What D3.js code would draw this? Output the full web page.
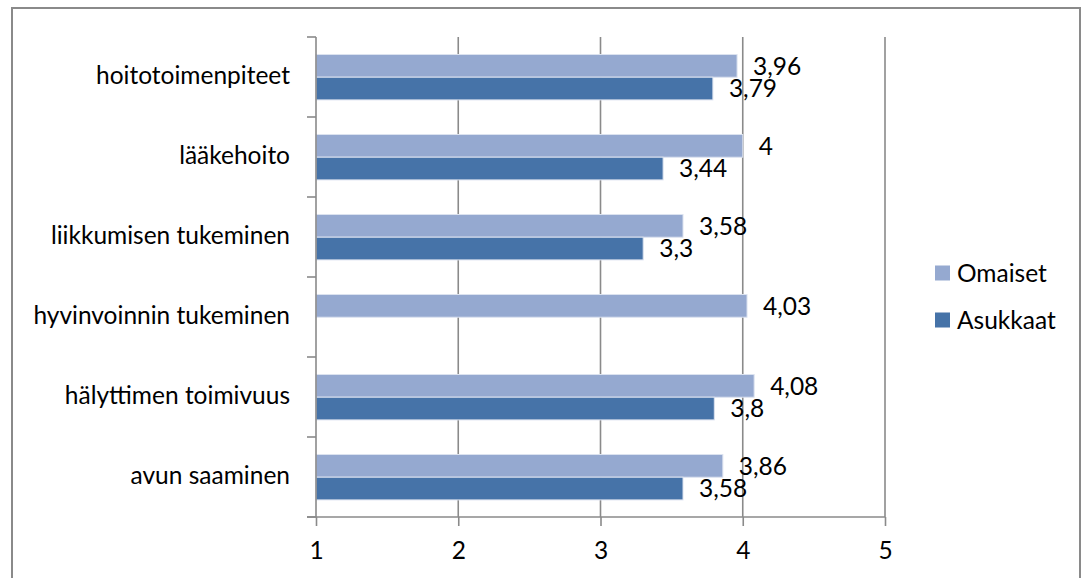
<!DOCTYPE html>
<html>
<head>
<meta charset="utf-8">
<title>Omaiset / Asukkaat</title>
<script src="https://cdn.jsdelivr.net/npm/d3@7/dist/d3.min.js"></script>
<style>
  body { margin: 0; background: #fff; }
  svg text { font-family: Lato, "Open Sans", sans-serif; fill: #000; }
</style>
</head>
<body>
<svg id="chart" width="1082" height="578"></svg>
<script>
// data (top to bottom)
var categories = ["hoitotoimenpiteet", "lääkehoito", "liikkumisen tukeminen",
                  "hyvinvoinnin tukeminen", "hälyttimen toimivuus", "avun saaminen"];
var omaiset  = [3.96, 4, 3.58, 4.03, 4.08, 3.86];
var asukkaat = [3.79, 3.44, 3.3, null, 3.8, 3.58];
var seriesNames = ["Omaiset", "Asukkaat"];
var seriesColors = ["#95a9d0", "#4673a8"];
var xTicks = [1, 2, 3, 4, 5];

var svg = d3.select("#chart");
var fmt = function(v) { return String(v).replace(".", ","); };
var fs = "24.5px";

// outer frame
svg.append("rect")
  .attr("x", 12).attr("y", 8).attr("width", 1068).attr("height", 600)
  .attr("fill", "none").attr("stroke", "#8a8a8a").attr("stroke-width", 2);

var pLeft = 316, pRight = 885, pTop = 37, pBottom = 517;

var x = d3.scaleLinear().domain([1, 5]).range([pLeft, pRight]);
var y = d3.scaleBand().domain(categories).range([pTop, pBottom]);
var inner = d3.scaleBand().domain(seriesNames)
  .range([17.5, y.bandwidth() - 17.1]);

var gridColor = "#8a8a8a";

// vertical gridlines
svg.append("g").selectAll("line")
  .data(xTicks.slice(1))
  .enter().append("line")
  .attr("x1", d => x(d)).attr("x2", d => x(d))
  .attr("y1", pTop).attr("y2", pBottom)
  .attr("stroke", gridColor).attr("stroke-width", 1.6);

// bars
var rows = categories.map((c, i) => ({ cat: c, vals: [omaiset[i], asukkaat[i]] }));
var g = svg.append("g");
rows.forEach(function(r) {
  r.vals.forEach(function(v, j) {
    if (v == null) return;
    g.append("rect")
      .attr("x", x(1))
      .attr("y", y(r.cat) + inner(seriesNames[j]))
      .attr("width", x(v) - x(1))
      .attr("height", inner.bandwidth())
      .attr("fill", seriesColors[j])
      .attr("stroke", "#dbe2ef").attr("stroke-width", 1);
  });
});

// x axis
var xAxis = d3.axisBottom(x).tickValues(xTicks).tickSize(9).tickPadding(16)
  .tickFormat(d => fmt(d));
var gx = svg.append("g").attr("transform", "translate(0," + pBottom + ")").call(xAxis);
gx.attr("font-family", null);
gx.select(".domain").attr("d", "M" + (pLeft - 9) + ",0H" + pRight)
  .attr("stroke", gridColor).attr("stroke-width", 1.6);
gx.selectAll(".tick line").attr("stroke", gridColor).attr("stroke-width", 1.6);
gx.selectAll(".tick text").style("font-size", fs);

// y axis
var yAxis = d3.axisLeft(y).tickSize(0).tickPadding(26);
var gy = svg.append("g").attr("transform", "translate(" + pLeft + ",0)").call(yAxis);
gy.attr("font-family", null);
gy.select(".domain").attr("d", "M0," + pTop + "V" + pBottom)
  .attr("stroke", gridColor).attr("stroke-width", 1.6);
gy.selectAll(".tick text").style("font-size", fs).attr("dy", "0.3em");
gy.selectAll(".bound")
  .data(d3.range(categories.length + 1))
  .enter().append("line")
  .attr("x1", -9).attr("x2", 0)
  .attr("y1", i => pTop + i * y.step()).attr("y2", i => pTop + i * y.step())
  .attr("stroke", gridColor).attr("stroke-width", 1.6);

// value labels
var lg = svg.append("g");
rows.forEach(function(r) {
  r.vals.forEach(function(v, j) {
    if (v == null) return;
    lg.append("text")
      .attr("x", x(v) + 16)
      .attr("y", y(r.cat) + inner(seriesNames[j]) + inner.bandwidth() / 2)
      .attr("dy", "0.36em")
      .style("font-size", fs)
      .text(fmt(v));
  });
});

// legend
var leg = svg.append("g");
seriesNames.forEach(function(s, i) {
  var cy = 273 + i * 47;
  leg.append("rect")
    .attr("x", 935).attr("y", cy - 7.5).attr("width", 15).attr("height", 15)
    .attr("fill", seriesColors[i]);
  leg.append("text")
    .attr("x", 957).attr("y", cy).attr("dy", "0.36em")
    .style("font-size", fs)
    .text(s);
});
</script>
</body>
</html>
